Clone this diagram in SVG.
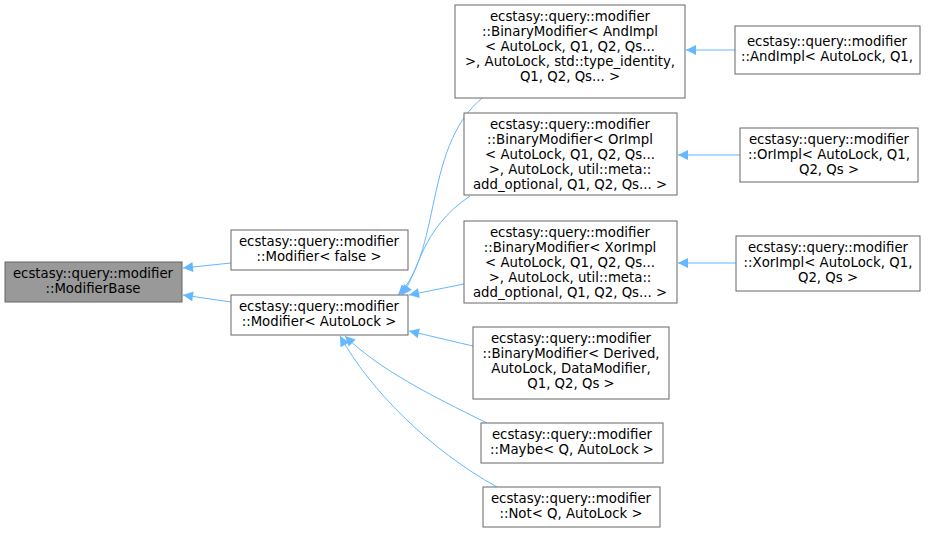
<svg xmlns="http://www.w3.org/2000/svg" width="929" height="533" viewBox="0 0 929 533" xml:space="preserve">
<style>
.n{fill:#fff;stroke:#666;stroke-width:1}
.g{fill:#999;stroke:#666;stroke-width:1}
text{font-family:"DejaVu Sans",sans-serif;font-size:13.3px;fill:#000;text-anchor:middle}
.e{fill:none;stroke:#63b8ff;stroke-width:1;marker-end:url(#a)}
</style>
<defs><marker id="a" viewBox="0 0 10 10" refX="10" refY="5" markerWidth="12" markerHeight="10" markerUnits="userSpaceOnUse" orient="auto"><path d="M0,0L10,5L0,10z" fill="#63b8ff"/></marker></defs>
<rect width="929" height="533" fill="#fff"/>
<g id="edges">
<path class="e" d="M231,263L183,268"/>
<path class="e" d="M231,302L183,295"/>
<path class="e" d="M497,88C420,130,445,250,398,295"/>
<path class="e" d="M470,196C420,230,420,270,402,295"/>
<path class="e" d="M464,284L409,295"/>
<path class="e" d="M473,346L409,331"/>
<path class="e" d="M487,423C430,395,380,370,345,336"/>
<path class="e" d="M497,487C430,450,370,390,340,336"/>
<path class="e" d="M735,50L686,50"/>
<path class="e" d="M740,155L678,155"/>
<path class="e" d="M736,263L678,263"/>
</g>
<g id="n1"><rect class="g" x="5" y="262" width="177" height="40"/><text x="93" y="278">ecstasy::query::modifier</text><text x="93" y="293">::ModifierBase</text></g>
<g id="n2"><rect class="n" x="231" y="230" width="177" height="40"/><text x="319" y="246">ecstasy::query::modifier</text><text x="319" y="261">::Modifier&lt; false &gt;</text></g>
<g id="n3"><rect class="n" x="231" y="295" width="177" height="40"/><text x="319" y="311">ecstasy::query::modifier</text><text x="319" y="326">::Modifier&lt; AutoLock &gt;</text></g>
<g id="n4"><rect class="n" x="455" y="5" width="230" height="93"/><text x="570" y="21">ecstasy::query::modifier</text><text x="570" y="36">::BinaryModifier&lt; AndImpl</text><text x="570" y="51">&lt; AutoLock, Q1, Q2, Qs...</text><text x="570" y="66"> &gt;, AutoLock, std::type_identity,</text><text x="570" y="81">Q1, Q2, Qs... &gt;</text></g>
<g id="n5"><rect class="n" x="735" y="26" width="185" height="48"/><text x="827" y="46">ecstasy::query::modifier</text><text x="827" y="61">::AndImpl&lt; AutoLock, Q1,</text><text x="827" y="76" visibility="hidden">x</text></g>
<g id="n6"><rect class="n" x="464" y="113" width="213" height="82"/><text x="570" y="129">ecstasy::query::modifier</text><text x="570" y="144">::BinaryModifier&lt; OrImpl</text><text x="570" y="159">&lt; AutoLock, Q1, Q2, Qs...</text><text x="570" y="174"> &gt;, AutoLock, util::meta::</text><text x="570" y="189">add_optional, Q1, Q2, Qs... &gt;</text></g>
<g id="n7"><rect class="n" x="740" y="128" width="178" height="54"/><text x="829" y="144">ecstasy::query::modifier</text><text x="829" y="159">::OrImpl&lt; AutoLock, Q1,</text><text x="829" y="174">Q2, Qs &gt;</text></g>
<g id="n8"><rect class="n" x="464" y="221" width="213" height="82"/><text x="570" y="237">ecstasy::query::modifier</text><text x="570" y="252">::BinaryModifier&lt; XorImpl</text><text x="570" y="267">&lt; AutoLock, Q1, Q2, Qs...</text><text x="570" y="282"> &gt;, AutoLock, util::meta::</text><text x="570" y="297">add_optional, Q1, Q2, Qs... &gt;</text></g>
<g id="n9"><rect class="n" x="736" y="236" width="184" height="55"/><text x="828" y="252">ecstasy::query::modifier</text><text x="828" y="267">::XorImpl&lt; AutoLock, Q1,</text><text x="828" y="282">Q2, Qs &gt;</text></g>
<g id="n10"><rect class="n" x="473" y="327" width="196" height="72"/><text x="571" y="343">ecstasy::query::modifier</text><text x="571" y="358">::BinaryModifier&lt; Derived,</text><text x="571" y="373">AutoLock, DataModifier,</text><text x="571" y="388">Q1, Q2, Qs &gt;</text></g>
<g id="n11"><rect class="n" x="481" y="423" width="182" height="40"/><text x="572" y="439">ecstasy::query::modifier</text><text x="572" y="454">::Maybe&lt; Q, AutoLock &gt;</text></g>
<g id="n12"><rect class="n" x="483" y="487" width="177" height="40"/><text x="571" y="503">ecstasy::query::modifier</text><text x="571" y="518">::Not&lt; Q, AutoLock &gt;</text></g>
</svg>
